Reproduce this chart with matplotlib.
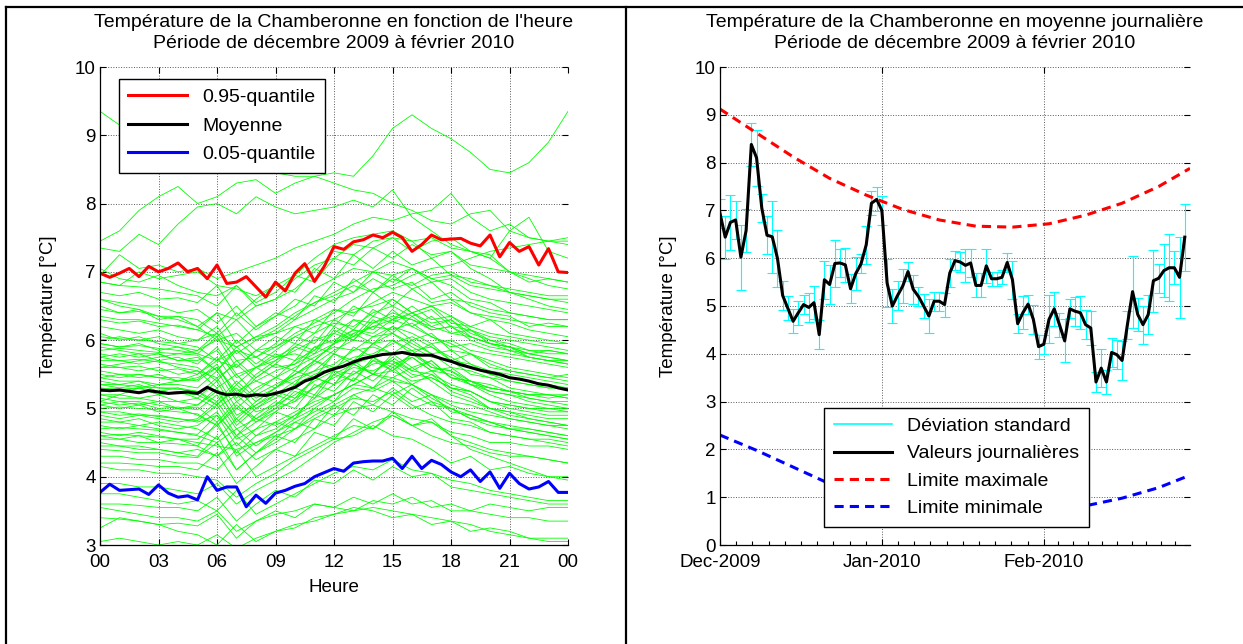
import numpy as np
import matplotlib
matplotlib.use("Agg")
import matplotlib.pyplot as plt
from matplotlib.lines import Line2D

plt.rcParams['font.family'] = ['Liberation Sans', 'DejaVu Sans']
plt.rcParams['font.size'] = 13.5

# ---- left panel : one curve per day, hourly values 00h..24h
hours = list(range(25))
green_days = [
    [9.35, 9.15, 9.05, 8.9, 8.85, 8.7, 8.6, 8.55, 8.5, 8.45, 8.4, 8.4, 8.45, 8.4, 8.7, 9.1, 9.3, 9.1, 8.95, 8.75, 8.5, 8.45, 8.6, 8.9, 9.35],
    [7.45, 7.6, 7.9, 8.1, 8.25, 8.0, 8.1, 8.3, 8.35, 8.15, 8.3, 8.4, 8.3, 8.2, 8.15, 8.0, 7.9, 7.75, 7.7, 7.85, 7.9, 7.6, 7.5, 7.45, 7.5],
    [7.35, 7.3, 7.55, 7.4, 7.7, 7.95, 8.0, 7.85, 8.1, 7.95, 7.85, 7.9, 7.95, 8.05, 7.95, 8.2, 7.8, 7.6, 7.4, 7.3, 7.2, 7.0, 6.9, 6.8, 6.75],
    [6.95, 7.25, 7.05, 7.1, 7.0, 7.05, 6.9, 7.0, 7.1, 7.2, 7.35, 7.45, 7.55, 7.7, 7.8, 7.75, 7.85, 7.9, 8.15, 7.8, 7.6, 7.7, 7.5, 7.45, 7.4],
    [6.85, 6.8, 7.0, 6.9, 6.95, 7.0, 6.8, 6.75, 6.65, 6.8, 6.95, 7.2, 7.4, 7.5, 7.55, 7.6, 7.45, 7.5, 7.35, 7.3, 7.25, 7.0, 6.85, 6.9, 6.85],
    [7.05, 6.9, 6.85, 6.95, 6.8, 6.7, 6.65, 6.8, 6.5, 6.6, 6.75, 7.0, 7.3, 7.25, 7.45, 7.5, 7.3, 7.45, 7.5, 7.3, 7.2, 7.6, 7.8, 7.3, 7.2],
    [6.5, 6.4, 6.45, 6.3, 6.35, 6.2, 6.4, 6.3, 6.5, 6.6, 6.9, 7.1, 7.2, 7.4, 7.35, 7.5, 7.45, 7.2, 7.3, 7.05, 6.9, 6.7, 6.65, 6.6, 6.55],
    [6.2, 6.15, 6.1, 6.15, 6.05, 6.0, 6.1, 5.9, 6.05, 6.1, 6.3, 6.45, 6.6, 6.7, 6.9, 6.75, 6.85, 6.6, 6.7, 6.5, 6.4, 6.35, 6.2, 6.25, 6.2],
    [5.95, 5.9, 5.95, 5.85, 5.9, 5.8, 5.7, 5.85, 5.75, 5.9, 6.05, 6.2, 6.3, 6.45, 6.5, 6.6, 6.4, 6.5, 6.35, 6.2, 6.3, 6.1, 6.05, 6.0, 5.95],
    [5.8, 5.75, 5.8, 5.7, 5.75, 5.65, 5.9, 5.5, 5.6, 5.45, 5.7, 5.85, 6.1, 6.0, 6.25, 6.35, 6.3, 6.15, 6.2, 6.05, 5.95, 5.9, 5.8, 5.85, 5.8],
    [5.6, 5.6, 5.55, 5.6, 5.5, 5.55, 5.3, 5.5, 5.2, 5.35, 5.5, 5.7, 5.95, 6.1, 6.2, 6.3, 6.4, 6.25, 6.3, 6.1, 6.0, 5.9, 5.75, 5.7, 5.65],
    [5.5, 5.45, 5.5, 5.45, 5.4, 5.45, 5.6, 5.25, 5.4, 5.3, 5.45, 5.55, 5.8, 5.7, 5.95, 6.0, 5.85, 5.9, 5.7, 5.8, 5.6, 5.55, 5.5, 5.45, 5.5],
    [5.35, 5.3, 5.35, 5.25, 5.3, 5.2, 5.05, 5.3, 5.0, 5.15, 5.35, 5.5, 5.6, 5.75, 5.8, 5.95, 6.05, 5.9, 5.75, 5.6, 5.5, 5.4, 5.35, 5.3, 5.3],
    [5.2, 5.2, 5.15, 5.2, 5.1, 5.15, 5.4, 4.9, 5.05, 5.2, 5.4, 5.55, 5.65, 5.85, 5.9, 5.8, 5.85, 5.6, 5.55, 5.4, 5.35, 5.25, 5.2, 5.15, 5.2],
    [5.05, 5.0, 5.05, 4.95, 5.0, 4.9, 4.75, 5.0, 4.85, 5.0, 5.1, 5.3, 5.45, 5.6, 5.55, 5.7, 5.5, 5.45, 5.3, 5.25, 5.1, 5.05, 5.0, 5.0, 5.0],
    [4.9, 4.85, 4.9, 4.85, 4.8, 4.85, 5.1, 4.7, 4.85, 4.75, 4.9, 5.05, 5.2, 5.35, 5.5, 5.45, 5.6, 5.4, 5.2, 5.1, 5.0, 4.95, 4.9, 4.85, 4.85],
    [4.75, 4.7, 4.75, 4.7, 4.65, 4.6, 4.5, 4.7, 4.45, 4.65, 4.8, 4.95, 5.1, 5.3, 5.25, 5.4, 5.2, 5.05, 5.0, 4.85, 4.8, 4.7, 4.7, 4.65, 4.6],
    [4.6, 4.55, 4.6, 4.5, 4.55, 4.45, 4.8, 4.3, 4.5, 4.6, 4.7, 4.85, 5.0, 5.15, 5.1, 5.25, 5.05, 4.9, 4.8, 4.75, 4.65, 4.6, 4.55, 4.55, 4.5],
    [4.45, 4.45, 4.4, 4.4, 4.35, 4.4, 4.3, 4.5, 4.25, 4.4, 4.55, 4.7, 4.9, 5.0, 5.05, 4.95, 4.85, 4.8, 4.65, 4.6, 4.5, 4.5, 4.45, 4.45, 4.4],
    [5.1, 5.2, 5.3, 5.35, 5.4, 5.5, 5.7, 5.6, 5.85, 5.9, 6.1, 6.25, 6.4, 6.6, 6.75, 6.8, 6.95, 7.05, 7.1, 7.2, 7.3, 7.35, 7.4, 7.45, 7.45],
    [6.6, 6.5, 6.45, 6.35, 6.3, 6.2, 6.0, 6.1, 5.85, 5.75, 5.8, 5.7, 5.6, 5.65, 5.5, 5.4, 5.35, 5.2, 5.1, 5.05, 4.95, 4.85, 4.8, 4.75, 4.7],
    [6.0, 6.05, 6.0, 6.05, 5.95, 6.0, 6.2, 5.8, 6.0, 6.15, 6.35, 6.55, 6.65, 6.8, 6.7, 6.9, 6.8, 6.95, 7.0, 6.85, 6.8, 6.7, 6.6, 6.5, 6.45],
    [5.7, 5.7, 5.65, 5.7, 5.6, 5.55, 5.45, 5.65, 5.4, 5.55, 5.65, 5.9, 6.0, 6.15, 6.1, 6.3, 6.2, 6.05, 5.9, 5.95, 5.85, 5.8, 5.75, 5.7, 5.7],
    [5.45, 5.4, 5.4, 5.35, 5.35, 5.3, 5.55, 5.1, 5.3, 5.45, 5.6, 5.75, 5.9, 5.85, 6.05, 6.1, 5.9, 5.75, 5.7, 5.5, 5.45, 5.3, 5.25, 5.2, 5.2],
    [5.25, 5.25, 5.3, 5.2, 5.25, 5.15, 5.0, 5.2, 4.95, 5.05, 5.2, 5.4, 5.55, 5.5, 5.7, 5.65, 5.75, 5.55, 5.5, 5.35, 5.3, 5.25, 5.2, 5.2, 5.15],
    [4.95, 4.95, 4.9, 4.9, 4.85, 4.8, 4.9, 4.6, 4.8, 4.95, 5.15, 5.3, 5.5, 5.65, 5.75, 5.6, 5.8, 5.65, 5.45, 5.35, 5.2, 5.1, 5.05, 5.0, 4.95],
    [6.35, 6.3, 6.3, 6.25, 6.2, 6.15, 6.05, 6.3, 6.0, 6.1, 6.2, 6.3, 6.45, 6.4, 6.55, 6.7, 6.6, 6.5, 6.55, 6.4, 6.35, 6.3, 6.25, 6.2, 6.2],
    [5.6, 5.65, 5.7, 5.75, 5.8, 5.85, 6.0, 5.9, 6.05, 6.2, 6.4, 6.55, 6.7, 6.85, 7.0, 6.95, 7.05, 6.9, 6.8, 6.6, 6.55, 6.4, 6.35, 6.3, 6.3],
    [4.8, 4.8, 4.75, 4.8, 4.75, 4.7, 4.55, 4.85, 4.6, 4.7, 4.9, 5.15, 5.35, 5.5, 5.65, 5.7, 5.55, 5.5, 5.35, 5.25, 5.1, 5.0, 4.95, 4.9, 4.9],
    [5.9, 5.85, 5.8, 5.8, 5.7, 5.7, 5.85, 5.45, 5.6, 5.75, 5.9, 6.1, 6.25, 6.2, 6.4, 6.5, 6.35, 6.45, 6.2, 6.15, 6.0, 5.95, 5.85, 5.8, 5.8],
    [5.4, 5.35, 5.4, 5.3, 5.3, 5.25, 5.1, 5.4, 5.15, 5.3, 5.5, 5.65, 5.85, 6.0, 5.95, 6.1, 5.95, 5.8, 5.6, 5.55, 5.45, 5.4, 5.35, 5.3, 5.3],
    [4.65, 4.6, 4.65, 4.6, 4.55, 4.5, 4.45, 4.4, 4.5, 4.65, 4.85, 5.0, 5.2, 5.35, 5.5, 5.55, 5.4, 5.45, 5.3, 5.2, 5.0, 4.9, 4.85, 4.8, 4.75],
    [6.1, 6.0, 6.05, 5.95, 5.9, 5.85, 6.1, 5.7, 5.75, 5.6, 5.65, 5.8, 5.95, 6.15, 6.05, 6.2, 6.1, 5.95, 6.0, 5.85, 5.8, 5.75, 5.7, 5.65, 5.6],
    [4.3, 4.3, 4.25, 4.25, 4.2, 4.2, 4.1, 4.4, 4.0, 4.15, 4.3, 4.45, 4.6, 4.75, 4.7, 4.9, 4.75, 4.6, 4.5, 4.45, 4.35, 4.3, 4.3, 4.25, 4.2],
    [4.15, 4.1, 4.1, 4.05, 4.05, 4.0, 3.95, 3.7, 3.9, 4.05, 4.25, 4.4, 4.55, 4.6, 4.75, 4.6, 4.55, 4.4, 4.2, 4.3, 4.1, 4.15, 4.05, 4.0, 4.0],
    [3.55, 3.5, 3.45, 3.4, 3.4, 3.35, 3.5, 3.2, 3.35, 3.45, 3.5, 3.6, 3.55, 3.5, 3.65, 3.6, 3.7, 3.55, 3.6, 3.5, 3.6, 3.55, 3.5, 3.55, 3.55],
    [3.25, 3.4, 3.35, 3.3, 3.2, 3.15, 3.0, 3.3, 3.05, 3.2, 3.25, 3.4, 3.45, 3.55, 3.5, 3.4, 3.45, 3.3, 3.35, 3.2, 3.25, 3.2, 3.1, 3.1, 3.1],
    [3.75, 3.75, 3.7, 3.65, 3.6, 3.65, 3.5, 3.8, 3.45, 3.6, 3.75, 3.9, 4.05, 4.15, 4.1, 4.25, 4.1, 4.05, 3.95, 3.9, 3.8, 3.75, 3.7, 3.65, 3.65],
    [3.05, 3.1, 3.05, 3.0, 3.05, 3.0, 3.15, 2.95, 3.1, 3.2, 3.3, 3.35, 3.45, 3.5, 3.55, 3.5, 3.45, 3.4, 3.35, 3.3, 3.2, 3.15, 3.1, 3.05, 3.05],
    [4.5, 4.45, 4.45, 4.4, 4.35, 4.3, 4.6, 4.1, 4.35, 4.5, 4.7, 4.9, 5.05, 5.2, 5.3, 5.2, 5.35, 5.15, 5.0, 4.9, 4.8, 4.7, 4.65, 4.6, 4.55],
    [3.9, 3.9, 3.85, 3.85, 3.8, 3.75, 3.9, 3.6, 3.8, 3.95, 4.1, 4.3, 4.5, 4.65, 4.8, 4.9, 4.75, 4.8, 4.6, 4.4, 4.3, 4.2, 4.1, 4.0, 3.95],
    [5.15, 5.1, 5.1, 5.05, 5.0, 5.05, 5.25, 4.85, 5.1, 5.3, 5.5, 5.7, 5.95, 6.05, 6.2, 6.15, 6.25, 6.05, 5.95, 5.8, 5.65, 5.55, 5.5, 5.45, 5.4],
    [5.75, 5.8, 5.75, 5.8, 5.7, 5.75, 5.55, 5.85, 5.6, 5.7, 5.85, 6.0, 6.1, 6.3, 6.25, 6.4, 6.3, 6.2, 6.1, 6.05, 5.95, 5.9, 5.85, 5.85, 5.8],
    [4.85, 4.8, 4.85, 4.75, 4.7, 4.75, 4.95, 4.55, 4.7, 4.8, 4.95, 5.1, 5.2, 5.35, 5.3, 5.45, 5.35, 5.2, 5.05, 4.95, 4.9, 4.85, 4.8, 4.75, 4.75],
    [6.6, 6.55, 6.5, 6.5, 6.4, 6.45, 6.25, 6.5, 6.2, 6.35, 6.5, 6.75, 6.9, 7.05, 7.0, 7.15, 7.05, 6.9, 6.95, 6.8, 6.75, 6.7, 6.65, 6.6, 6.6],
    [5.65, 5.6, 5.62, 5.55, 5.58, 5.5, 5.75, 5.35, 5.6, 5.8, 5.7, 6.05, 5.95, 6.3, 6.15, 6.45, 6.2, 6.35, 6.1, 6.15, 5.95, 5.9, 5.8, 5.75, 5.7],
    [5.3, 5.28, 5.3, 5.25, 5.22, 5.2, 5.45, 5.0, 5.25, 5.45, 5.35, 5.7, 5.55, 5.9, 5.75, 6.0, 5.8, 5.95, 5.7, 5.65, 5.5, 5.45, 5.4, 5.35, 5.3],
    [4.7, 4.72, 4.7, 4.68, 4.65, 4.62, 4.9, 4.45, 4.7, 4.95, 4.85, 5.2, 5.1, 5.45, 5.3, 5.6, 5.35, 5.5, 5.25, 5.15, 5.0, 4.95, 4.85, 4.8, 4.75],
    [6.05, 6.02, 6.0, 5.98, 5.95, 5.9, 5.7, 6.0, 5.75, 5.95, 6.2, 6.1, 6.45, 6.35, 6.7, 6.5, 6.75, 6.55, 6.6, 6.4, 6.3, 6.25, 6.15, 6.1, 6.05],
    [5.0, 5.02, 5.0, 4.98, 4.95, 4.92, 4.75, 5.05, 4.8, 5.0, 5.25, 5.15, 5.5, 5.4, 5.75, 5.55, 5.8, 5.6, 5.55, 5.35, 5.25, 5.2, 5.1, 5.05, 5.0],
    [5.55, 5.5, 5.5, 5.45, 5.45, 5.4, 5.6, 5.2, 5.5, 5.7, 5.95, 5.85, 6.2, 6.05, 6.35, 6.25, 6.4, 6.2, 6.3, 6.05, 5.95, 5.85, 5.75, 5.7, 5.65],
    [4.4, 4.38, 4.35, 4.35, 4.3, 4.28, 4.5, 4.1, 4.35, 4.6, 4.5, 4.85, 4.75, 5.1, 4.95, 5.2, 5.0, 5.1, 4.85, 4.8, 4.65, 4.6, 4.55, 4.5, 4.45],
    [6.85, 6.8, 6.78, 6.75, 6.7, 6.65, 6.5, 6.8, 6.55, 6.7, 6.95, 6.85, 7.2, 7.1, 7.35, 7.2, 7.4, 7.25, 7.3, 7.1, 7.05, 7.0, 6.95, 6.9, 6.85],
    [5.2, 5.15, 5.15, 5.1, 5.1, 5.05, 5.3, 4.8, 5.05, 5.25, 5.15, 5.45, 5.35, 5.65, 5.5, 5.75, 5.55, 5.7, 5.45, 5.4, 5.3, 5.25, 5.2, 5.2, 5.15],
    [4.55, 4.55, 4.5, 4.5, 4.48, 4.45, 4.3, 4.6, 4.35, 4.55, 4.8, 4.7, 5.05, 4.9, 5.2, 5.05, 5.3, 5.1, 5.0, 4.85, 4.75, 4.7, 4.65, 4.6, 4.55],
    [5.85, 5.88, 5.85, 5.82, 5.8, 5.78, 5.55, 5.9, 5.65, 5.85, 6.05, 5.95, 6.3, 6.15, 6.45, 6.3, 6.5, 6.3, 6.35, 6.15, 6.05, 6.0, 5.95, 5.9, 5.85],
    [5.45, 5.5, 5.45, 5.5, 5.4, 5.42, 5.65, 5.15, 5.45, 5.65, 5.55, 5.9, 5.8, 6.1, 5.95, 6.2, 6.0, 6.1, 5.85, 5.8, 5.7, 5.6, 5.55, 5.5, 5.45],
    [4.95, 4.9, 4.92, 4.88, 4.85, 4.82, 5.05, 4.6, 4.9, 5.1, 5.0, 5.35, 5.25, 5.55, 5.4, 5.65, 5.45, 5.55, 5.3, 5.25, 5.1, 5.05, 5.0, 4.95, 4.95],
    [6.3, 6.25, 6.28, 6.2, 6.22, 6.15, 6.4, 5.95, 6.2, 6.4, 6.3, 6.65, 6.55, 6.9, 6.7, 6.95, 6.75, 6.85, 6.6, 6.55, 6.45, 6.4, 6.35, 6.3, 6.3],
    [4.2, 4.2, 4.18, 4.15, 4.15, 4.1, 4.35, 3.9, 4.15, 4.4, 4.3, 4.65, 4.55, 4.85, 4.7, 4.95, 4.75, 4.85, 4.6, 4.5, 4.4, 4.35, 4.3, 4.25, 4.2],
    [5.75, 5.7, 5.72, 5.68, 5.65, 5.6, 5.4, 5.7, 5.45, 5.65, 5.9, 5.8, 6.15, 6.0, 6.3, 6.1, 6.35, 6.15, 6.2, 6.0, 5.9, 5.85, 5.8, 5.75, 5.7],
    [5.1, 5.05, 5.08, 5.0, 5.02, 4.98, 5.2, 4.75, 5.0, 5.2, 5.1, 5.45, 5.35, 5.7, 5.5, 5.8, 5.6, 5.7, 5.45, 5.4, 5.25, 5.2, 5.15, 5.1, 5.1],
    [3.6, 3.6, 3.58, 3.55, 3.55, 3.5, 3.7, 3.35, 3.6, 3.8, 3.7, 3.95, 3.9, 4.1, 3.95, 4.15, 4.0, 4.05, 3.85, 3.8, 3.75, 3.7, 3.65, 3.6, 3.6],
    [6.45, 6.4, 6.42, 6.35, 6.35, 6.3, 6.1, 6.4, 6.15, 6.35, 6.6, 6.5, 6.85, 6.7, 7.0, 6.85, 7.05, 6.85, 6.9, 6.7, 6.6, 6.55, 6.5, 6.45, 6.4],
    [5.35, 5.35, 5.32, 5.3, 5.28, 5.25, 5.05, 5.35, 5.1, 5.3, 5.55, 5.45, 5.8, 5.65, 5.95, 5.8, 6.0, 5.8, 5.85, 5.65, 5.55, 5.5, 5.45, 5.4, 5.35],
    [4.6, 4.62, 4.6, 4.58, 4.55, 4.55, 4.75, 4.35, 4.6, 4.8, 4.7, 5.0, 4.9, 5.2, 5.05, 5.3, 5.1, 5.2, 4.95, 4.9, 4.8, 4.75, 4.7, 4.65, 4.6],
    [5.95, 5.9, 5.92, 5.88, 5.85, 5.8, 6.05, 5.6, 5.85, 6.05, 5.95, 6.3, 6.2, 6.5, 6.35, 6.6, 6.4, 6.5, 6.25, 6.2, 6.1, 6.05, 6.0, 5.95, 5.95],
    [3.4, 3.38, 3.35, 3.3, 3.32, 3.28, 3.45, 3.1, 3.35, 3.5, 3.4, 3.6, 3.55, 3.7, 3.6, 3.75, 3.6, 3.65, 3.5, 3.5, 3.45, 3.4, 3.4, 3.35, 3.35],
    [6.7, 6.65, 6.7, 6.6, 6.62, 6.55, 6.8, 6.35, 6.6, 6.8, 6.7, 7.05, 6.9, 7.25, 7.05, 7.3, 7.1, 7.2, 6.95, 6.9, 6.8, 6.75, 6.7, 6.65, 6.65],
    [5.05, 5.1, 5.05, 5.1, 5.0, 5.02, 4.8, 5.1, 4.85, 5.05, 5.3, 5.2, 5.55, 5.4, 5.7, 5.55, 5.75, 5.55, 5.6, 5.4, 5.3, 5.25, 5.15, 5.1, 5.05],
]

# summary curves, every 30 min
half_hours = [h / 2 for h in range(49)]
q95 = [6.98, 6.92, 6.98, 7.05, 6.93, 7.08, 7.0, 7.05, 7.13, 7.0, 7.05, 6.9, 7.1, 6.83, 6.85, 6.93,
       6.78, 6.63, 6.85, 6.72, 6.98, 7.12, 6.86, 7.08, 7.37, 7.33, 7.44, 7.47, 7.54, 7.5, 7.58, 7.5,
       7.3, 7.4, 7.54, 7.47, 7.48, 7.49, 7.42, 7.38, 7.54, 7.22, 7.43, 7.3, 7.37, 7.1, 7.34, 7.0, 6.99]
moyenne = [5.27, 5.26, 5.27, 5.25, 5.23, 5.26, 5.24, 5.22, 5.23, 5.24, 5.22, 5.31, 5.24, 5.2, 5.21, 5.18,
           5.2, 5.19, 5.22, 5.26, 5.31, 5.4, 5.45, 5.53, 5.58, 5.62, 5.68, 5.73, 5.76, 5.79, 5.8, 5.82,
           5.79, 5.78, 5.78, 5.73, 5.69, 5.64, 5.6, 5.56, 5.53, 5.5, 5.45, 5.43, 5.4, 5.36, 5.34, 5.3, 5.27]
q05 = [3.77, 3.89, 3.8, 3.81, 3.82, 3.74, 3.88, 3.76, 3.7, 3.72, 3.66, 4.0, 3.8, 3.85, 3.85, 3.56,
       3.73, 3.61, 3.76, 3.8, 3.86, 3.9, 4.0, 4.06, 4.12, 4.08, 4.2, 4.22, 4.23, 4.23, 4.27, 4.12,
       4.3, 4.12, 4.24, 4.18, 4.07, 4.0, 4.1, 3.93, 4.07, 3.83, 4.05, 3.9, 3.82, 3.85, 3.93, 3.77, 3.77]
hour_ticks = [0, 3, 6, 9, 12, 15, 18, 21, 24]
hour_labels = ['00', '03', '06', '09', '12', '15', '18', '21', '00']

# ---- right panel : daily means 1 Dec 2009 .. 28 Feb 2010
daily_mean = [6.94, 6.44, 6.75, 6.80, 6.02, 6.58, 8.38, 8.10, 7.05, 6.48, 6.45, 6.00, 5.22, 4.95, 4.68, 4.86,
              5.03, 4.97, 5.07, 4.40, 5.55, 5.45, 5.89, 5.90, 5.86, 5.36, 5.68, 5.88, 6.28, 7.15, 7.23,
              7.00, 5.48, 5.00, 5.22, 5.42, 5.72, 5.35, 5.20, 5.00, 4.79, 5.10, 5.10, 5.03, 5.69, 5.95,
              5.92, 5.85, 5.90, 5.43, 5.43, 5.84, 5.57, 5.57, 5.60, 5.91, 5.55, 4.63, 4.86, 5.04, 4.72, 4.15,
              4.20, 4.72, 4.94, 4.61, 4.27, 4.94, 4.89, 4.86, 4.61, 4.54, 3.41, 3.70, 3.41, 4.03, 3.98,
              3.86, 4.60, 5.30, 4.82, 4.61, 4.82, 5.53, 5.58, 5.74, 5.80, 5.80, 5.60, 6.44]
daily_std = [0.30, 0.45, 0.58, 0.40, 0.68, 0.45, 0.45, 0.58, 0.30, 0.40, 0.75, 0.60, 0.30, 0.25, 0.25, 0.25,
             0.20, 0.30, 0.35, 0.30, 0.40, 0.40, 0.50, 0.30, 0.35, 0.30, 0.35, 0.20, 0.40, 0.25, 0.25,
             0.30, 0.50, 0.35, 0.30, 0.35, 0.20, 0.30, 0.20, 0.25, 0.35, 0.20, 0.20, 0.25, 0.30, 0.20,
             0.20, 0.35, 0.30, 0.25, 0.25, 0.35, 0.15, 0.15, 0.15, 0.20, 0.40, 0.20, 0.35, 0.20, 0.30, 0.25,
             0.20, 0.50, 0.35, 0.25, 0.45, 0.20, 0.30, 0.35, 0.30, 0.35, 0.20, 0.40, 0.25, 0.30, 0.30,
             0.40, 0.30, 0.75, 0.35, 0.40, 0.40, 0.65, 0.30, 0.55, 0.70, 0.35, 0.85, 0.70]
limit_days = [0, 7, 14, 21, 28, 35, 42, 49, 56, 63, 70, 77, 84, 90]
limit_max = [9.12, 8.62, 8.12, 7.67, 7.32, 7.02, 6.80, 6.67, 6.65, 6.72, 6.90, 7.15, 7.50, 7.88]
limit_min = [2.30, 1.98, 1.63, 1.28, 1.05, 0.88, 0.75, 0.68, 0.68, 0.72, 0.82, 0.98, 1.20, 1.46]
month_starts = [0, 31, 62, 90]
month_labels = ['Dec-2009', 'Jan-2010', 'Feb-2010']

W, H = 1243, 644
fig = plt.figure(figsize=(W / 100, H / 100), dpi=100)

# table borders around the two panels
fig.add_artist(Line2D([6 / W, 1], [1 - 7 / H, 1 - 7 / H], color='black', lw=1.6))
fig.add_artist(Line2D([6 / W, 6 / W], [0, 1 - 7 / H], color='black', lw=1.6))
fig.add_artist(Line2D([626 / W, 626 / W], [0, 1 - 7 / H], color='black', lw=1.6))


def matlab_axes(ax):
    ax.set_axisbelow(True)
    ax.grid(True, linestyle=':', color='0.35', linewidth=0.7)
    ax.spines['top'].set_visible(False)
    ax.spines['right'].set_visible(False)
    ax.spines['left'].set_linewidth(0.9)
    ax.spines['bottom'].set_linewidth(0.9)
    ax.tick_params(direction='in', top=True, right=True, length=4, width=0.8)
    ax.tick_params(axis='x', pad=6.5)
    ax.tick_params(axis='y', pad=3)


# ---- left
ax1 = fig.add_axes([100 / W, 1 - 545 / H, 468 / W, 478 / H])
for day in green_days:
    ax1.plot(hours, day, color=(0, 1, 0), lw=0.6)
l95, = ax1.plot(half_hours, q95, color='red', lw=2.2)
lmoy, = ax1.plot(half_hours, moyenne, color='black', lw=2.2)
l05, = ax1.plot(half_hours, q05, color='blue', lw=2.2)
ax1.set_xlim(0, 24)
ax1.set_ylim(3, 10)
ax1.set_xticks(hour_ticks)
ax1.set_xticklabels(hour_labels)
ax1.set_yticks(range(3, 11))
matlab_axes(ax1)
ax1.set_title("Température de la Chamberonne en fonction de l'heure\nPériode de décembre 2009 à février 2010",
              fontsize=14, pad=14, linespacing=1.3)
ax1.set_xlabel('Heure', labelpad=6)
ax1.set_ylabel('Température [°C]', labelpad=13)
leg1 = ax1.legend([l95, lmoy, l05], ['0.95-quantile', 'Moyenne', '0.05-quantile'],
                  loc='upper left', bbox_to_anchor=(0.04, 0.975), borderaxespad=0,
                  fancybox=False, framealpha=1, edgecolor='black', handlelength=3.0,
                  labelspacing=0.55, borderpad=0.5, fontsize=14)
leg1.get_frame().set_linewidth(1.0)

# ---- right
ax2 = fig.add_axes([720 / W, 1 - 545 / H, 470 / W, 478 / H])
days = range(len(daily_mean))
ax2.errorbar(days, daily_mean, yerr=daily_std, fmt='none', ecolor='cyan', elinewidth=0.8,
             capsize=3.5, capthick=0.8)
ax2.plot(days, daily_mean, color='black', lw=2.2)
ax2.plot(limit_days, limit_max, color='red', lw=2.2, linestyle=(0, (3, 2)))
ax2.plot(limit_days, limit_min, color='blue', lw=2.2, linestyle=(0, (3, 2)))
ax2.set_xlim(month_starts[0], month_starts[-1])
ax2.set_ylim(0, 10)
ax2.set_xticks(month_starts[:3])
ax2.set_xticklabels(month_labels)
minor = []
for a, b in zip(month_starts[:-1], month_starts[1:]):
    minor += list(np.linspace(a, b, 11)[1:-1])
ax2.set_xticks(minor, minor=True)
ax2.set_yticks(range(0, 11))
matlab_axes(ax2)
ax2.tick_params(which='minor', direction='in', length=3, width=0.8, top=False)
ax2.set_title("Température de la Chamberonne en moyenne journalière\nPériode de décembre 2009 à février 2010",
              fontsize=14, pad=14, linespacing=1.3)
ax2.set_ylabel('Température [°C]', labelpad=13)
handles = [Line2D([], [], color='cyan', lw=1.2),
           Line2D([], [], color='black', lw=2.2),
           Line2D([], [], color='red', lw=2.2, linestyle=(0, (3, 2))),
           Line2D([], [], color='blue', lw=2.2, linestyle=(0, (3, 2)))]
leg2 = ax2.legend(handles, ['Déviation standard', 'Valeurs journalières', 'Limite maximale', 'Limite minimale'],
                  loc='upper left', bbox_to_anchor=(0.221, 0.287), borderaxespad=0,
                  fancybox=False, framealpha=1, edgecolor='black', handlelength=3.0,
                  labelspacing=0.5, borderpad=0.5, fontsize=14)
leg2.get_frame().set_linewidth(1.0)

fig.savefig('out.png', dpi=100)
